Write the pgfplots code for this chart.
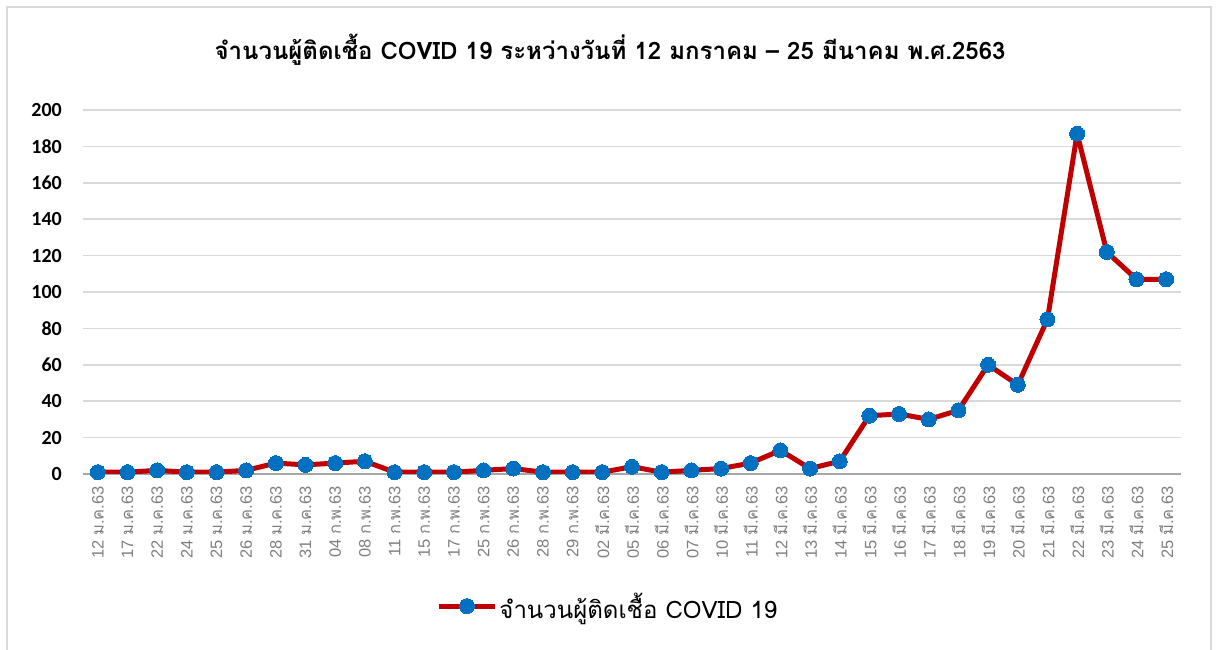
\documentclass[border=0pt]{standalone}
\usepackage{pgfplots}
\pgfplotsset{compat=1.18}
\usepackage{pgfplotstable}
\usepackage{fontspec}
\setmainfont{Liberation Sans}
\newfontfamily\thai[Script=Thai]{Loma}
\newfontfamily\carlito{Carlito}
\definecolor{linered}{HTML}{C00000}
\definecolor{mblue}{HTML}{0070C0}
\definecolor{gridc}{HTML}{D9D9D9}
\definecolor{axisc}{HTML}{A6A6A6}
\definecolor{labc}{HTML}{7F7F7F}
\definecolor{framec}{HTML}{D9D9D9}
\newcommand\xl[2]{#1 {\thai #2}63}
\pgfplotstableread{
idx val
0 1
1 1
2 2
3 1
4 1
5 2
6 6
7 5
8 6
9 7
10 1
11 1
12 1
13 2
14 3
15 1
16 1
17 1
18 4
19 1
20 2
21 3
22 6
23 13
24 3
25 7
26 32
27 33
28 30
29 35
30 60
31 49
32 85
33 187
34 122
35 107
36 107
}\datatable
\begin{document}
\begin{tikzpicture}
\useasboundingbox (-83pt,-176pt) rectangle (1133pt,474pt);
\draw[framec, line width=1.5pt] (-76pt,-200pt) -- (-76pt,467pt) -- (1128pt,467pt) -- (1128pt,-200pt);
\node[font=\thai\bfseries\fontsize{24}{24}\selectfont] at (527pt,424pt) {จำนวนผู้ติดเชื้อ COVID 19 ระหว่างวันที่ 12 มกราคม – 25 มีนาคม พ.ศ.2563};
\begin{axis}[
  at={(0,0)}, anchor=south west,
  scale only axis,
  width=1098pt, height=364pt,
  xmin=-0.5, xmax=36.5,
  ymin=0, ymax=200,
  axis line style={draw=none},
  ytick={20,40,...,200},
  extra y ticks={0},
  extra y tick style={grid style={axisc, line width=1.5pt}},
  ymajorgrids,
  grid style={gridc, line width=1.5pt},
  tick style={draw=none},
  /pgf/number format/assume math mode=true,
  yticklabel style={font=\carlito\bfseries\fontsize{20}{20}\selectfont, anchor=east, inner sep=0pt, xshift=-21pt},
  xtick={0,...,36},
  xticklabels={\xl{12}{ม.ค.},\xl{17}{ม.ค.},\xl{22}{ม.ค.},\xl{24}{ม.ค.},\xl{25}{ม.ค.},\xl{26}{ม.ค.},\xl{28}{ม.ค.},\xl{31}{ม.ค.},\xl{04}{ก.พ.},\xl{08}{ก.พ.},\xl{11}{ก.พ.},\xl{15}{ก.พ.},\xl{17}{ก.พ.},\xl{25}{ก.พ.},\xl{26}{ก.พ.},\xl{28}{ก.พ.},\xl{29}{ก.พ.},\xl{02}{มี.ค.},\xl{05}{มี.ค.},\xl{06}{มี.ค.},\xl{07}{มี.ค.},\xl{10}{มี.ค.},\xl{11}{มี.ค.},\xl{12}{มี.ค.},\xl{13}{มี.ค.},\xl{14}{มี.ค.},\xl{15}{มี.ค.},\xl{16}{มี.ค.},\xl{17}{มี.ค.},\xl{18}{มี.ค.},\xl{19}{มี.ค.},\xl{20}{มี.ค.},\xl{21}{มี.ค.},\xl{22}{มี.ค.},\xl{23}{มี.ค.},\xl{24}{มี.ค.},\xl{25}{มี.ค.}},
  xticklabel style={font=\fontsize{16.5}{16.5}\selectfont, text=labc, yshift=-12pt, rotate=90, anchor=east, inner sep=0pt},
  legend style={at={(0.478,-0.363)}, anchor=center, draw=none, fill=none,
    font=\thai\fontsize{24}{24}\selectfont, inner sep=0pt},
  legend image code/.code={\draw[#1, mark repeat=2, mark phase=2] plot coordinates {(0pt,0pt) (28pt,0pt) (56pt,0pt)};},
  legend cell align=left,
]
\addplot[linered, line width=5pt, line join=round, mark=*, mark size=7.5pt,
  mark options={mblue, draw=mblue, line width=0pt}] table[x=idx, y=val] {\datatable};
\addlegendentry{จำนวนผู้ติดเชื้อ COVID 19}
\end{axis}
\end{tikzpicture}
\end{document}
